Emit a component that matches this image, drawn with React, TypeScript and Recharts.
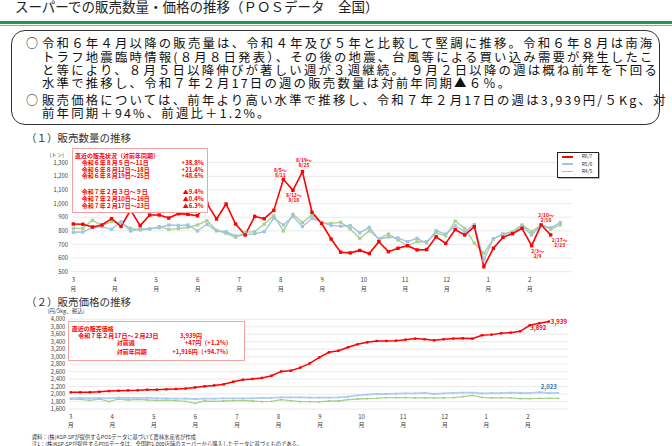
import React from 'react';
import { LineChart, Line, XAxis, YAxis, CartesianGrid } from 'recharts';

const FONT = '"Noto Sans CJK JP", "Noto Sans", sans-serif';

// x axis: weekly points, one label per month
const monthLabels = ['3', '4', '5', '6', '7', '8', '9', '10', '11', '12', '1', '2'];
const WEEKS_PER_MONTH = 365 / 12 / 7;

// (1) 販売数量 (トン), week of 3/4 onward
const volumeR67 = [
  850, 848, 828, 843, 889, 832, 952, 838, 916, 916, 894, 926, 921, 911, 1000, 887, 997, 850, 770, 906,
  889, 950, 1178, 1097, 1234, 936, 855, 740, 643, 638, 656, 633, 720, 647, 672, 691, 660, 662, 756, 708,
  809, 770, 831, 537, 672, 752, 779, 818, 691, 843, 770,
];
const volumeR56 = [
  789, 791, 823, 831, 811, 867, 799, 813, 816, 823, 843, 840, 843, 799, 848, 799, 794, 762, 770, 779,
  794, 894, 843, 906, 831, 892, 862, 840, 834, 839, 785, 826, 736, 755, 748, 720, 745, 710, 801, 776,
  837, 792, 846, 586, 742, 775, 785, 836, 770, 843, 822, 860,
];
const volumeR45 = [
  818, 818, 878, 838, 867, 860, 818, 806, 813, 831, 811, 816, 826, 843, 875, 804, 782, 752, 789, 794,
  848, 911, 799, 921, 860, 916, 857, 855, 863, 814, 745, 800, 742, 777, 733, 690, 720, 720, 786, 762,
  872, 818, 709, 635, 740, 777, 794, 843, 794, 843, 812, 843,
];
const volumeTicks = [500, 600, 700, 800, 900, 1000, 1100, 1200, 1300];

// (2) 販売価格 (円/5kg、税込)
const priceR67 = [
  2046, 2046, 2048, 2062, 2080, 2090, 2098, 2100, 2116, 2118, 2126, 2136, 2146, 2178, 2206, 2232, 2260, 2330, 2385, 2403,
  2432, 2492, 2606, 2626, 2706, 2822, 2983, 3117, 3161, 3251, 3331, 3384, 3420, 3420, 3429, 3456, 3483, 3465, 3438, 3465,
  3483, 3492, 3483, 3572, 3590, 3625, 3643, 3679, 3839, 3892, 3939,
];
const priceR56 = [
  1886, 1895, 1886, 1895, 1886, 1904, 1895, 1895, 1895, 1886, 1886, 1877, 1877, 1868, 1877, 1877, 1886, 1886, 1886, 1886,
  1895, 1895, 1913, 1913, 1913, 1904, 1904, 1904, 1913, 1930, 1966, 1984, 2002, 2002, 2011, 2020, 2020, 2029, 2002, 2020,
  2029, 2037, 2037, 2020, 2025, 2025, 2035, 2028, 2025, 2048, 2023, 2030,
];
const priceR45 = [
  1868, 1859, 1832, 1868, 1797, 1868, 1841, 1859, 1841, 1832, 1838, 1823, 1806, 1752, 1814, 1806, 1814, 1823, 1832, 1814,
  1797, 1806, 1850, 1823, 1797, 1797, 1788, 1814, 1814, 1850, 1868, 1877, 1886, 1904, 1904, 1904, 1895, 1895, 1895, 1895,
  1904, 1930, 1966, 1913, 1895, 1895, 1895, 1877, 1877, 1886, 1886, 1886,
];
const priceTicks = [1600, 1800, 2000, 2200, 2400, 2600, 2800, 3000, 3200, 3400, 3600, 3800, 4000];

// week annotations on the R6/7 volume line
const volumeNotes: Record<number, string[]> = {
  22: ['8/5〜', '8/11'],
  23: ['8/12〜', '8/18'],
  24: ['8/19〜', '8/25'],
  48: ['2/3〜', '2/9'],
  49: ['2/10〜', '2/16'],
  50: ['2/17〜', '2/23'],
};
const priceLabelWeeks = { r67: [49, 50], r56: [50] };

const seriesNames = ['R6/7', 'R5/6', 'R4/5'];

const summaryLines = [
  { bullet: true, text: '令和６年４月以降の販売量は、令和４年及び５年と比較して堅調に推移。令和６年８月は南海' },
  { bullet: false, text: 'トラフ地震臨時情報(８月８日発表）、その後の地震、台風等による買い込み需要が発生したこ' },
  { bullet: false, text: 'と等により、８月５日以降伸びが著しい週が３週継続。 ９月２日以降の週は概ね前年を下回る' },
  { bullet: false, text: '水準で推移し、令和７年２月17日の週の販売数量は対前年同期▲６％。' },
  { bullet: true, text: '販売価格については、前年より高い水準で推移し、令和７年２月17日の週は3,939円/５Kg、対' },
  { bullet: false, text: '前年同期＋94%、前週比＋1.2%。' },
];

const volumeBoxRows = [
  ['令和６年８月５日～11日', '+38.8%'],
  ['令和６年８月12日～18日', '+21.4%'],
  ['令和６年８月19日～25日', '+48.6%'],
  ['令和７年２月３日～９日', '▲9.4%'],
  ['令和７年２月10日～16日', '▲0.4%'],
  ['令和７年２月17日～23日', '▲6.3%'],
];

const volumeData = volumeR56.map((v, i) => ({
  week: i,
  r67: volumeR67[i] ?? null,
  r56: v,
  r45: volumeR45[i],
}));
const priceData = priceR56.map((v, i) => ({
  week: i,
  r67: priceR67[i] ?? null,
  r56: v,
  r45: priceR45[i],
}));
const monthTicks = monthLabels.map((_, i) => i * WEEKS_PER_MONTH);

const RED = '#FF0000';
const BLUE = '#9DC3E6';
const BLUE2 = '#AFCFEE';
const GREEN = '#A9D18E';
const GRID = '#E4E4E4';
const TICK = '#404040';

const fmt = (v: number) => v.toLocaleString('en-US');

const monthTick = (dy1: number, dy2: number) => (p: any) => {
  const { x, y, payload } = p;
  const label = monthLabels[Math.round(payload.value / WEEKS_PER_MONTH)];
  return (
    <g>
      <text x={x} y={y + dy1} textAnchor="middle" fontSize={6} fill={TICK} fontFamily={FONT}>{label}</text>
      <text x={x} y={y + dy2} textAnchor="middle" fontSize={6} fill={TICK} fontFamily={FONT}>月</text>
    </g>
  );
};

// placement of the week notes around their point [dx, dy of first line centre]
const noteOffset: Record<number, [number, number]> = {
  22: [-3, -9.3],
  23: [1, 4.8],
  24: [1.5, -11],
  48: [6, 5.3],
  49: [5, -9.8],
  50: [9, 5.2],
};

const makeDot =
  (color: string, size: number, shape: 'square' | 'circle', extra?: (i: number, cx: number, cy: number) => React.ReactNode) =>
  (p: any) => {
    const { cx, cy, index = 0 } = p;
    if (cx == null || cy == null || Number.isNaN(cy)) return <g key={`n${index}`} />;
    return (
      <g key={`d${index}`}>
        {shape === 'square' ? (
          <rect x={cx - size / 2} y={cy - size / 2} width={size} height={size} fill={color} />
        ) : (
          <circle cx={cx} cy={cy} r={size / 2} fill={color} />
        )}
        {extra?.(index, cx, cy)}
      </g>
    );
  };

const volumeNote = (i: number, cx: number, cy: number) => {
  const lines = volumeNotes[i];
  if (!lines) return null;
  const [dx, dy] = noteOffset[i];
  return lines.map((t, k) => (
    <text key={k} x={cx + dx} y={cy + dy + k * 4.8 + 1.8} textAnchor="middle" fontSize={5} fontWeight={700} fill={RED} fontFamily={FONT}>
      {t}
    </text>
  ));
};

const priceRedLabel = (i: number, cx: number, cy: number) => {
  if (!priceLabelWeeks.r67.includes(i)) return null;
  const last = i === priceR67.length - 1;
  return (
    <text x={last ? cx + 2 : cx - 1} y={last ? cy + 2.5 : cy + 7} textAnchor={last ? 'start' : 'middle'} fontSize={6} fontWeight={700} fill={RED} fontFamily={FONT}>
      {fmt(priceR67[i])}
    </text>
  );
};

const priceBlueLabel = (i: number, cx: number, cy: number) => {
  if (!priceLabelWeeks.r56.includes(i)) return null;
  return (
    <text x={cx} y={cy - 4.6} textAnchor="middle" fontSize={6} fontWeight={700} fill="#2E75B6" fontFamily={FONT}>
      {fmt(priceR56[i])}
    </text>
  );
};

const abs = (left: number, top: number, extra: React.CSSProperties = {}): React.CSSProperties => ({
  position: 'absolute',
  left,
  top,
  whiteSpace: 'nowrap',
  ...extra,
});

export default function App() {
  const lineCenters = [43.3, 56.7, 70, 83.3, 100.3, 113.3];
  const boxRowCenters = [162.3, 169, 175.7, 191.7, 198.3, 205];
  const small: React.CSSProperties = { fontSize: 6, lineHeight: '7px', fontWeight: 700, color: RED };

  return (
    <div style={{ position: 'absolute', left: 0, top: 0, width: 672, height: 446, overflow: 'hidden', background: '#fff', fontFamily: FONT, color: '#222' }}>
      {/* title */}
      <div style={abs(15, -2, { fontSize: 13.5, lineHeight: '17px', color: '#222' })}>
        スーパーでの販売数量・価格の推移（ＰＯＳデータ　全国）
      </div>
      <div style={abs(0, 21, { width: 672, height: 2.5, background: '#1E9B46' })} />
      <div style={abs(0, 24.5, { width: 672, height: 1.8, background: '#7CC24A' })} />

      {/* summary box */}
      <div style={abs(11, 30, { width: 649, height: 95, border: '1.5px solid #333', borderRadius: 14, boxSizing: 'border-box' })} />
      {summaryLines.map((l, i) => (
        <React.Fragment key={i}>
          {l.bullet && (
            <div style={abs(26, lineCenters[i] - 7, { fontSize: 12, lineHeight: '14px', color: '#111' })}>○</div>
          )}
          <div style={abs(42, lineCenters[i] - 7, { fontSize: 12.4, lineHeight: '14px', letterSpacing: 2.2, color: '#111' })}>
            {l.text}
          </div>
        </React.Fragment>
      ))}

      {/* (1) volume */}
      <div style={abs(26, 133, { fontSize: 10.5, lineHeight: '10px', color: '#333' })}>（１）販売数量の推移</div>
      <div style={abs(49.5, 151.5, { fontSize: 5.5, lineHeight: '7px', color: TICK })}>(トン)</div>
      <div style={abs(0, 140)}>
        <LineChart width={672} height={165} data={volumeData} margin={{ top: 22.7, right: 100.3, bottom: 8.3, left: 0 }}>
          <CartesianGrid vertical={false} stroke={GRID} strokeWidth={0.8} />
          <XAxis
            dataKey="week"
            type="number"
            domain={[-0.17, 52.2]}
            ticks={monthTicks}
            interval={0}
            tick={monthTick(10.3, 19.5)}
            tickLine={false}
            axisLine={false}
            tickSize={0}
            tickMargin={0}
            height={25}
          />
          <YAxis
            type="number"
            domain={[500, 1300]}
            ticks={volumeTicks}
            interval={0}
            width={71.7}
            tickLine={false}
            axisLine={false}
            tickSize={0}
            tickMargin={3.7}
            tick={{ fontSize: 5.8, fill: TICK, fontFamily: FONT }}
            tickFormatter={fmt}
          />
          <Line dataKey="r45" stroke={GREEN} strokeWidth={1.4} dot={makeDot(GREEN, 3.2, 'square')} activeDot={false} isAnimationActive={false} />
          <Line dataKey="r56" stroke={BLUE} strokeWidth={1.4} dot={makeDot(BLUE, 3.2, 'square')} activeDot={false} isAnimationActive={false} />
          <Line dataKey="r67" stroke={RED} strokeWidth={1.6} dot={makeDot(RED, 3.4, 'square', volumeNote)} activeDot={false} isAnimationActive={false} />
        </LineChart>
      </div>

      {/* volume notes box */}
      <div style={abs(71.7, 148.3, { width: 136.6, height: 65, border: '1px solid #F4A3A3', background: '#fff', boxSizing: 'border-box' })} />
      <div style={abs(75, 155 - 3.5, small)}>直近の販売状況（対前年同期）</div>
      {volumeBoxRows.map(([label, value], i) => (
        <React.Fragment key={i}>
          <div style={abs(81.7, boxRowCenters[i] - 3.5, small)}>{label}</div>
          <div style={abs(170, boxRowCenters[i] - 3.5, { ...small, width: 33.5, textAlign: 'right' })}>{value}</div>
        </React.Fragment>
      ))}

      {/* legend */}
      <div style={abs(556.7, 151.7, { width: 42.6, height: 26.6, border: '1px solid #222', background: '#fff', boxSizing: 'border-box', boxShadow: '1px 1px 0 #bbb' })} />
      {seriesNames.map((name, i) => (
        <React.Fragment key={name}>
          <div style={abs(561.7, 156.2 + i * 7.2, { width: 11.6, height: 1.4, background: [RED, BLUE, GREEN][i] })} />
          <div style={abs(581.7, 153.4 + i * 7.2, { fontSize: 5, lineHeight: '6px', color: '#333' })}>{name}</div>
        </React.Fragment>
      ))}

      {/* (2) price */}
      <div style={abs(26, 296.5, { fontSize: 10.5, lineHeight: '10px', color: '#333' })}>（２）販売価格の推移</div>
      <div style={abs(47.5, 308.3, { fontSize: 5.5, lineHeight: '6px', color: TICK })}>(円/5kg、税込)</div>
      <div style={abs(0, 300)}>
        <LineChart width={672} height={136} data={priceData} margin={{ top: 19.3, right: 104, bottom: 2, left: 0 }}>
          <CartesianGrid vertical={false} stroke={GRID} strokeWidth={0.8} />
          <XAxis
            dataKey="week"
            type="number"
            domain={[-0.2, 52]}
            ticks={monthTicks}
            interval={0}
            tick={monthTick(9.7, 18)}
            tickLine={false}
            axisLine={false}
            tickSize={0}
            tickMargin={0}
            height={25}
          />
          <YAxis
            type="number"
            domain={[1600, 4000]}
            ticks={priceTicks}
            interval={0}
            width={68.8}
            tickLine={false}
            axisLine={false}
            tickSize={0}
            tickMargin={3.5}
            tick={{ fontSize: 5.8, fill: TICK, fontFamily: FONT }}
            tickFormatter={fmt}
          />
          <Line dataKey="r45" stroke={GREEN} strokeWidth={1.3} dot={makeDot('#9CC77E', 1.8, 'circle')} activeDot={false} isAnimationActive={false} />
          <Line dataKey="r56" stroke={BLUE2} strokeWidth={1.8} dot={makeDot(BLUE, 1.8, 'circle', priceBlueLabel)} activeDot={false} isAnimationActive={false} />
          <Line dataKey="r67" stroke={RED} strokeWidth={1.5} dot={makeDot(RED, 2.4, 'square', priceRedLabel)} activeDot={false} isAnimationActive={false} />
        </LineChart>
      </div>

      {/* price notes box */}
      <div style={abs(68.3, 320.7, { width: 176.7, height: 40.3, border: '1px solid #F4A3A3', background: '#fff', boxSizing: 'border-box' })} />
      <div style={abs(71.7, 328.3 - 3.5, small)}>直近の販売価格</div>
      <div style={abs(78.3, 335 - 3.5, small)}>令和７年２月17日～２月23日</div>
      <div style={abs(180, 335 - 3.5, small)}>3,939円</div>
      <div style={abs(116.7, 342.7 - 3.5, small)}>対前週</div>
      <div style={abs(150, 342.7 - 3.5, { ...small, width: 81.7, textAlign: 'right' })}>+47円（+1.2%）</div>
      <div style={abs(116.7, 351.7 - 3.5, small)}>対前年同期</div>
      <div style={abs(150, 351.7 - 3.5, { ...small, width: 81.7, textAlign: 'right' })}>+1,916円（+94.7%）</div>

      {/* sources */}
      <div style={abs(31.7, 433.5, { fontSize: 5.3, lineHeight: '6.5px', color: '#333' })}>
        資料：(株)KSP-SPが提供するPOSデータに基づいて農林水産省が作成
      </div>
      <div style={abs(31.7, 441.3, { fontSize: 5.3, lineHeight: '6.5px', color: '#333' })}>
        注1：(株)KSP-SPが提供するPOSデータは、全国約1,000店舗のスーパーから購入したデータに基づくものである。
      </div>
    </div>
  );
}
